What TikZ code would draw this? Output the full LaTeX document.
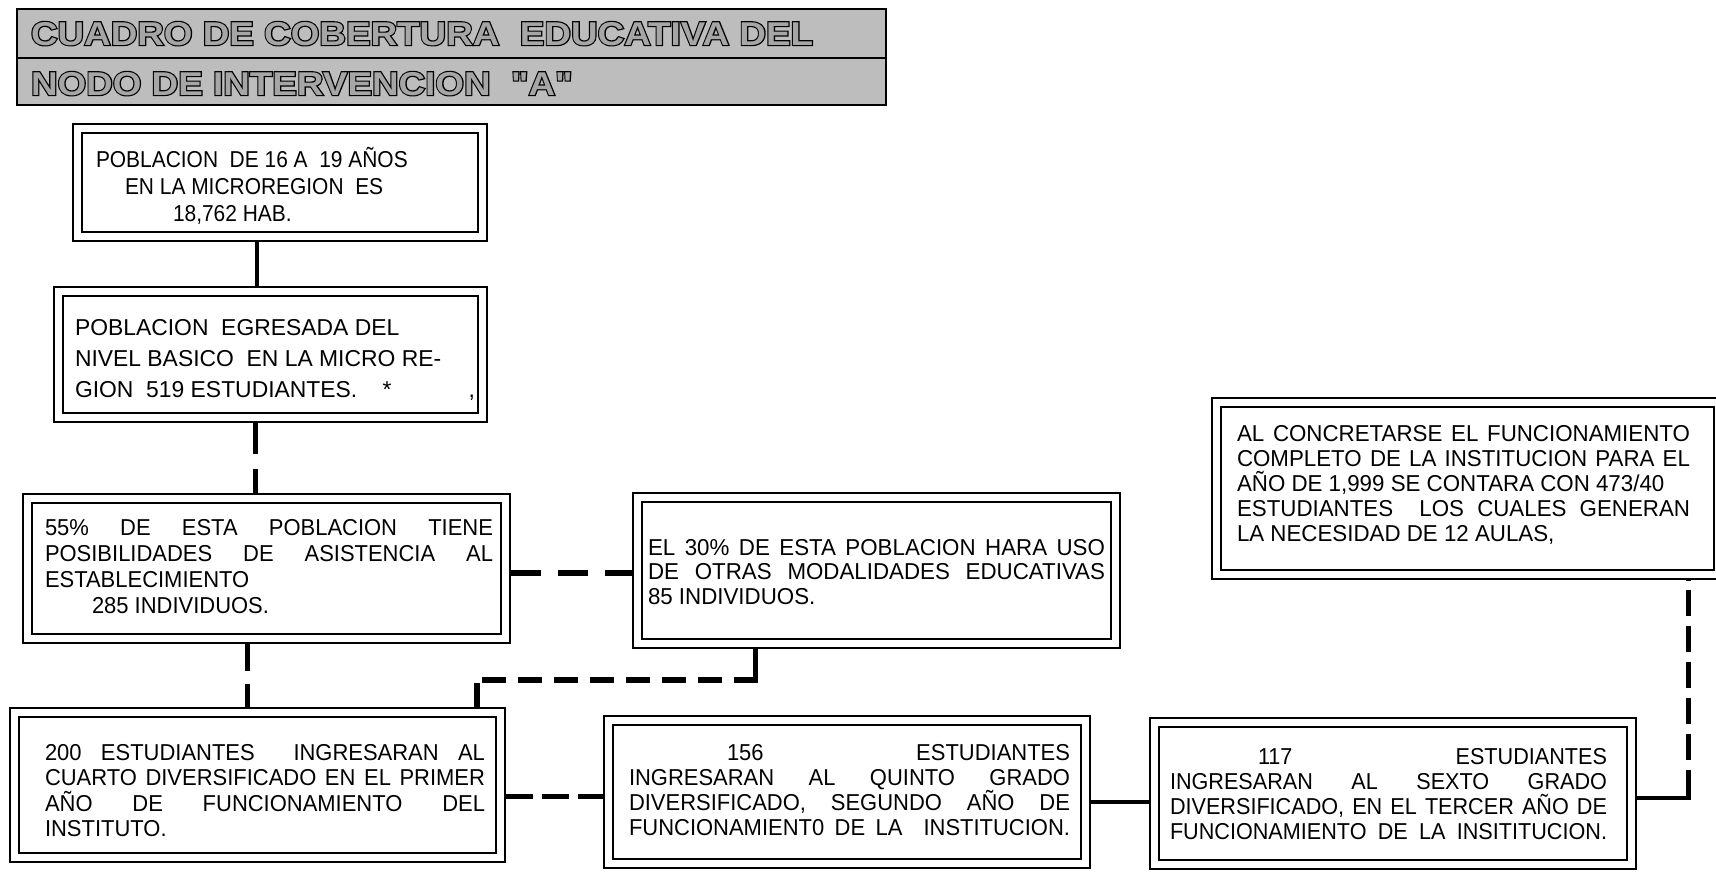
\documentclass[tikz,border=0pt]{standalone}
\usepackage{fontspec}
\setmainfont{Liberation Sans}
\newfontfamily\fA{Liberation Sans}[FakeStretch=0.91]
\newfontfamily\fB{Liberation Sans}[FakeStretch=0.995]
\newfontfamily\fC{Liberation Sans}[FakeStretch=0.955]
\newfontfamily\fD{Liberation Sans}[FakeStretch=0.97]
\newfontfamily\fE{Liberation Sans}[FakeStretch=0.94]
\newfontfamily\tOut{Liberation Sans Bold}[FakeStretch=1.116,FakeBold=7]
\newfontfamily\tIn{Liberation Sans Bold}[FakeStretch=1.116]
\newcommand{\jl}[1]{\makebox[\linewidth][s]{#1}}
\begin{document}
\begin{tikzpicture}[x=1pt,y=-1pt,
  dbox/.style={draw, line width=1.5pt, double, double distance=7.5pt, inner sep=0pt, outer sep=5.25pt},
  titlebox/.style={draw, line width=2pt, fill=gray!52, inner sep=0pt},
  ttl/.style={anchor=base west, inner sep=0pt, outer sep=0pt, font=\fontsize{33}{40}\selectfont},
  txt/.style={anchor=base west, inner sep=0pt, outer sep=0pt},
  solidc/.style={line width=4pt},
  dashc/.style={line width=5pt}
]
\useasboundingbox (0,0) rectangle (1716,871);
\fill[white] (0,0) rectangle (1716,871);

% title
\node[titlebox, minimum width=869pt, minimum height=96pt] (title) at (451.5,57) {};
\coordinate (tm) at (0,58);
\draw[line width=2pt] (title.west |- tm) -- (title.east |- tm);
\node[ttl, text=black] (tt1o) at (31,45) {\tOut CUADRO DE COBERTURA\ \ EDUCATIVA DEL};
\node[ttl, text=gray!70] (tt1i) at (31,45) {\tIn CUADRO DE COBERTURA\ \ EDUCATIVA DEL};
\node[ttl, text=black] (tt2o) at (31,95) {\tOut NODO DE INTERVENCION\ \ "A"};
\node[ttl, text=gray!70] (tt2i) at (31,95) {\tIn NODO DE INTERVENCION\ \ "A"};

% boxes
\node[dbox, minimum width=405pt, minimum height=108pt] (b1) at (280,182.5) {};
\node[dbox, minimum width=424pt, minimum height=126pt] (b2) at (270.5,354.5) {};
\node[dbox, minimum width=478pt, minimum height=140pt] (b3) at (266.5,568.5) {};
\node[dbox, minimum width=478pt, minimum height=146pt] (b4) at (876.5,570.5) {};
\node[dbox, minimum width=486pt, minimum height=145pt] (b5) at (257.5,785) {};
\node[dbox, minimum width=477pt, minimum height=143pt] (b6) at (847,792) {};
\node[dbox, minimum width=477pt, minimum height=142pt] (b7) at (1393,793.5) {};
\node[dbox, minimum width=502pt, minimum height=172pt] (b8) at (1467.5,488.5) {};

% texts
\node[txt] (t1) at (96,167) {\parbox[t]{380pt}{\fA\fontsize{23}{27}\selectfont
POBLACION\ \ DE 16 A\ \ 19 AÑOS\\
\hspace*{29pt}EN LA MICROREGION\ \ ES\\
\hspace*{77pt}18,762 HAB.}};

\node[txt] (t2) at (75,335) {\parbox[t]{400pt}{\fB\fontsize{23}{31}\selectfont
POBLACION\ \ EGRESADA DEL\\
NIVEL BASICO\ \ EN LA MICRO RE-\\
GION\ \ 519 ESTUDIANTES.\ \ \ \ *\hfill,}};

\node[txt] (t3) at (45,535) {\parbox[t]{448pt}{\fC\fontsize{23}{26.3}\selectfont
\jl{55\% DE ESTA POBLACION TIENE}\\
\jl{POSIBILIDADES DE ASISTENCIA AL}\\
ESTABLECIMIENTO\\
\hspace*{47pt}285 INDIVIDUOS.}};

\node[txt] (t4) at (648,555) {\parbox[t]{457pt}{\fD\fontsize{23}{24.5}\selectfont
\jl{EL 30\% DE ESTA POBLACION HARA USO}\\
\jl{DE OTRAS MODALIDADES EDUCATIVAS}\\
85 INDIVIDUOS.}};

\node[txt] (t5) at (45,760) {\parbox[t]{440pt}{\fC\fontsize{23}{25.5}\selectfont
\jl{200 ESTUDIANTES\ \ INGRESARAN AL}\\
\jl{CUARTO DIVERSIFICADO EN EL PRIMER}\\
\jl{AÑO DE FUNCIONAMIENTO DEL}\\
INSTITUTO.}};

\node[txt] (t6) at (629,760) {\parbox[t]{441pt}{\fC\fontsize{23}{25}\selectfont
\hspace*{98pt}156\hfill ESTUDIANTES\\
\jl{INGRESARAN AL QUINTO GRADO}\\
\jl{DIVERSIFICADO, SEGUNDO AÑO DE}\\
\jl{FUNCIONAMIENT0 DE LA\ \ INSTITUCION.}}};

\node[txt] (t7) at (1170,764) {\parbox[t]{437pt}{\fE\fontsize{23}{25}\selectfont
\hspace*{88pt}117\hfill ESTUDIANTES\\
\jl{INGRESARAN AL SEXTO GRADO}\\
\jl{DIVERSIFICADO, EN EL TERCER AÑO DE}\\
\jl{FUNCIONAMIENTO DE LA INSITITUCION.}}};

\node[txt] (t8) at (1237,441) {\parbox[t]{453pt}{\fD\fontsize{23}{25}\selectfont
\jl{AL CONCRETARSE EL FUNCIONAMIENTO}\\
\jl{COMPLETO DE LA INSTITUCION PARA EL}\\
AÑO DE 1,999 SE CONTARA CON 473/40\\
\jl{ESTUDIANTES\ \ LOS CUALES GENERAN}\\
LA NECESIDAD DE 12 AULAS,}};

% connectors
\coordinate (k1) at (257,0);
\coordinate (k2) at (255,0);
\coordinate (k3) at (247,0);
\coordinate (k4) at (0,573);
\coordinate (k5a) at (755,680);
\coordinate (k5b) at (477,680);
\coordinate (k6) at (0,796);
\coordinate (k7) at (0,802);
\coordinate (k8) at (1688,798);

\draw[solidc] (b1.south -| k1) -- (b2.north -| k1);
\draw[dashc, dash pattern=on 31pt off 15pt] (b2.south -| k2) -- (b3.north -| k2);
\draw[dashc, dash pattern=on 27pt off 13pt] (b3.south -| k3) -- (b5.north -| k3);
\draw[line width=6pt, dash pattern=on 30pt off 17pt] (b3.east |- k4) -- (b4.west |- k4);
\draw[line width=5pt] (b4.south -| k5a) -- (k5a);
\draw[line width=6pt, dash pattern=on 24pt off 12pt] ([xshift=2.5pt]k5a) -- ([xshift=-3pt]k5b);
\draw[line width=6pt] ([yshift=-3pt]k5b) -- (b5.north -| k5b);
\draw[dashc, dash pattern=on 27pt off 9pt] (b5.east |- k6) -- (b6.west |- k6);
\draw[solidc] (b6.east |- k7) -- (b7.west |- k7);
\draw[solidc] (b7.east |- k8) -- ([xshift=2.5pt]k8);
\draw[dashc, dash pattern=on 26pt off 10pt] ([yshift=2pt]k8) -- (b8.south -| k8);
\end{tikzpicture}
\end{document}
